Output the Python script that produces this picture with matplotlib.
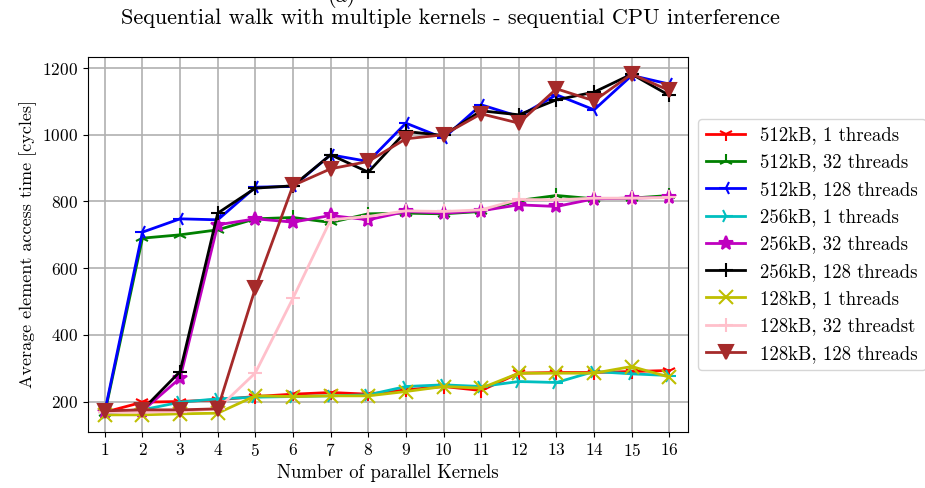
import matplotlib
matplotlib.use("Agg")
import matplotlib.pyplot as plt

plt.rcParams['font.family'] = 'serif'
plt.rcParams['font.serif'] = ['cmr10', 'DejaVu Serif']
plt.rcParams['mathtext.fontset'] = 'cm'
plt.rcParams['axes.formatter.use_mathtext'] = True

# -------------------------
# DADOS
# -------------------------
kernels = list(range(1, 17))

k512_1 = [168, 198, 200, 205, 215, 222, 227, 222, 235, 245, 233, 285, 287, 287, 290, 293]
k512_32 = [165, 690, 700, 715, 748, 752, 737, 763, 765, 763, 770, 803, 818, 808, 810, 818]
k512_128 = [170, 708, 748, 745, 843, 845, 940, 920, 1035, 990, 1090, 1055, 1120, 1075, 1178, 1152]
k256_1 = [165, 175, 198, 208, 213, 215, 217, 220, 245, 250, 245, 260, 257, 290, 283, 278]
k256_32 = [168, 172, 270, 730, 748, 738, 758, 745, 770, 765, 772, 790, 785, 808, 810, 813]
k256_128 = [170, 175, 290, 765, 840, 847, 940, 888, 1010, 998, 1072, 1060, 1105, 1128, 1182, 1118]
k128_1 = [160, 160, 163, 165, 217, 215, 217, 217, 230, 245, 240, 285, 285, 285, 305, 273]
k128_32 = [168, 168, 170, 178, 286, 510, 745, 755, 772, 770, 775, 806, 805, 810, 810, 812]
k128_128 = [172, 175, 175, 178, 540, 848, 898, 920, 988, 1000, 1063, 1035, 1138, 1102, 1182, 1133]

series = [
    (k512_1, "512kB, 1 threads", "red", "1"),
    (k512_32, "512kB, 32 threads", "green", "2"),
    (k512_128, "512kB, 128 threads", "blue", "3"),
    (k256_1, "256kB, 1 threads", "c", "4"),
    (k256_32, "256kB, 32 threads", "m", "*"),
    (k256_128, "256kB, 128 threads", "black", "+"),
    (k128_1, "128kB, 1 threads", "y", "x"),
    (k128_32, "128kB, 32 threadst", "pink", "+"),
    (k128_128, "128kB, 128 threads", "brown", "v"),
]

# -------------------------
# GRÁFICO
# -------------------------
fig = plt.figure(figsize=(9.25, 4.88), dpi=100)
ax = fig.add_axes([0.095, 0.115, 0.649, 0.768])

for vals, nome, cor, marc in series:
    ax.plot(kernels, vals, color=cor, marker=marc, markersize=10,
            linewidth=2, markeredgewidth=1.5, label=nome)

ax.set_xticks(kernels)
ax.set_xlim(0.55, 16.5)
ax.set_yticks([200, 400, 600, 800, 1000, 1200])
ax.tick_params(labelsize=12.5)
ax.grid(True, color="#b0b0b0", linewidth=1.2)
ax.set_axisbelow(True)

ax.set_xlabel("Number of parallel Kernels", fontsize=13.5)
ax.set_ylabel("Average element access time [cycles]", fontsize=13)

fig.text(0.487, 0.963, "Sequential walk with multiple kernels - sequential CPU interference",
         ha="center", va="center", fontsize=16)
fig.text(0.37, 1.008, "(a)", ha="center", va="center", fontsize=16, fontweight="bold")

ax.legend(loc="center left", bbox_to_anchor=(1.017, 0.5), borderaxespad=0,
          fontsize=13.5, labelspacing=0.5, handlelength=2.1, framealpha=0.8)

fig.savefig("out.png", dpi=100)
